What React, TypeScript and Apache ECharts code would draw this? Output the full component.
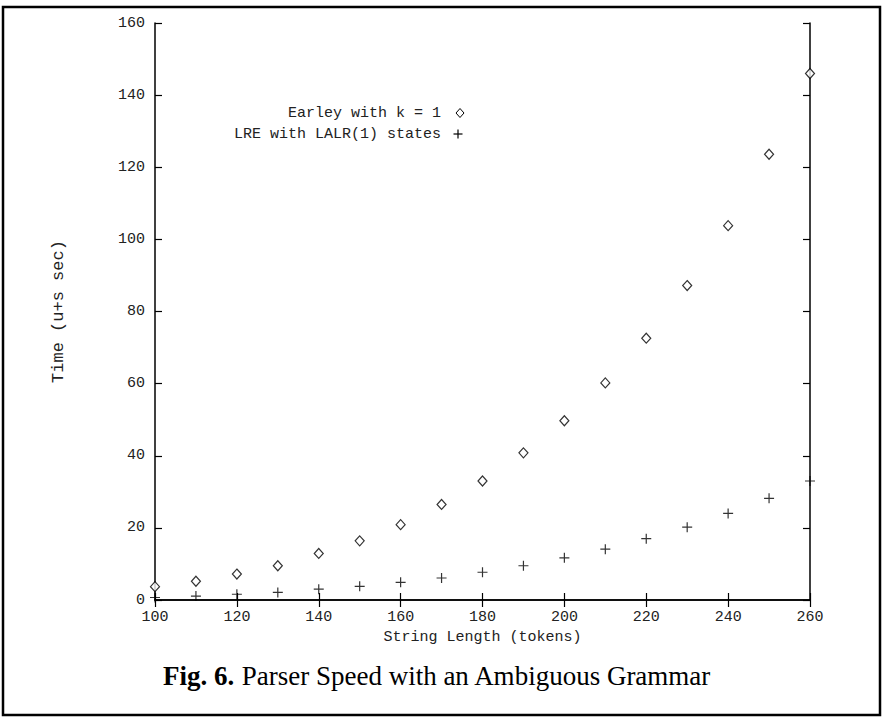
import React, { useEffect, useRef } from "react";
import * as echarts from "echarts";

const xValues = [100, 110, 120, 130, 140, 150, 160, 170, 180, 190, 200, 210, 220, 230, 240, 250, 260];
const earleyValues = [3.7, 5.2, 7.2, 9.5, 12.9, 16.4, 20.9, 26.5, 33.0, 40.8, 49.7, 60.2, 72.6, 87.2, 103.8, 123.6, 146.0];
const lreValues = [0.7, 1.1, 1.6, 2.1, 3.0, 3.8, 4.9, 6.1, 7.7, 9.5, 11.7, 14.1, 17.0, 20.2, 24.0, 28.2, 33.0];
const seriesNames = ["Earley with k = 1", "LRE with LALR(1) states"];
const xTitle = "String Length (tokens)";
const yTitle = "Time (u+s sec)";
const captionBold = "Fig. 6.";
const captionText = "Parser Speed with an Ambiguous Grammar";

const MONO = '"Liberation Mono", "DejaVu Sans Mono", monospace';
const SERIF = '"Liberation Serif", "DejaVu Serif", serif';
const PLUS = "path://M-0.12,-1H0.12V-0.12H1V0.12H0.12V1H-0.12V0.12H-1V-0.12H-0.12Z";

export default function App() {
  const ref = useRef<HTMLDivElement>(null);
  useEffect(() => {
    document.body.style.margin = "0";
    const chart = echarts.init(ref.current!, null, { renderer: "svg" });
    const axisLine = { show: true, lineStyle: { color: "#000", width: 1.5 } };
    const tick = { show: true, inside: true, length: 7, lineStyle: { color: "#000", width: 1.2 } };
    const label = { color: "#222", fontFamily: MONO, fontSize: 15 };
    chart.setOption({
      animation: false,
      backgroundColor: "#fff",
      grid: { left: 155, top: 23, right: 75, bottom: 120, containLabel: false },
      xAxis: [
        {
          type: "value", min: 100, max: 260, interval: 20, position: "bottom",
          axisLine, axisTick: tick, splitLine: { show: false },
          axisLabel: { ...label, margin: 10 },
          name: xTitle, nameLocation: "middle", nameGap: 28,
          nameTextStyle: { ...label },
        },
        {
          type: "value", min: 100, max: 260, interval: 20, position: "top",
          axisLine, axisTick: tick, splitLine: { show: false }, axisLabel: { show: false },
        },
      ],
      yAxis: [
        {
          type: "value", min: 0, max: 160, interval: 20, position: "left",
          axisLine, axisTick: tick, splitLine: { show: false },
          axisLabel: { ...label, margin: 10 },
          name: yTitle, nameLocation: "middle", nameGap: 88, nameRotate: 90,
          nameTextStyle: { ...label, fontSize: 17 },
        },
        {
          type: "value", min: 0, max: 160, interval: 20, position: "right",
          axisLine, axisTick: tick, splitLine: { show: false }, axisLabel: { show: false },
        },
      ],
      series: [
        {
          name: seriesNames[0], type: "scatter", xAxisIndex: 0, yAxisIndex: 0,
          data: xValues.map((x, i) => [x, earleyValues[i]]),
          symbol: "diamond", symbolSize: [9, 10], clip: false,
          itemStyle: { color: "#fff", borderColor: "#000", borderWidth: 1.2 },
        },
        {
          name: seriesNames[1], type: "scatter", xAxisIndex: 0, yAxisIndex: 0,
          data: xValues.map((x, i) => [x, lreValues[i]]),
          symbol: PLUS, symbolSize: 10, clip: false,
          itemStyle: { color: "#000" },
        },
      ],
      graphic: [
        {
          type: "rect", shape: { x: 3, y: 7, width: 877, height: 708 },
          style: { fill: "none", stroke: "#000", lineWidth: 2.5 }, silent: true,
        },
        {
          type: "text", x: 441, y: 113,
          style: { text: seriesNames[0], align: "right", verticalAlign: "middle", font: `15px ${MONO}`, fill: "#222" },
        },
        {
          type: "text", x: 441, y: 134,
          style: { text: seriesNames[1], align: "right", verticalAlign: "middle", font: `15px ${MONO}`, fill: "#222" },
        },
        {
          type: "polygon", shape: { points: [[460, 108.5], [464, 113], [460, 117.5], [456, 113]] },
          style: { fill: "#fff", stroke: "#000", lineWidth: 1 },
        },
        { type: "line", shape: { x1: 453.5, y1: 134, x2: 462.5, y2: 134 }, style: { stroke: "#000", lineWidth: 1.2 } },
        { type: "line", shape: { x1: 458, y1: 129.5, x2: 458, y2: 138.5 }, style: { stroke: "#000", lineWidth: 1.2 } },
        {
          type: "text", x: 437, y: 676,
          style: {
            text: `{b|${captionBold}} ${captionText}`,
            align: "center", verticalAlign: "middle",
            font: `27px ${SERIF}`, fill: "#000",
            rich: { b: { fontFamily: SERIF, fontSize: 27, fontWeight: "bold", fill: "#000" } },
          },
        },
      ],
    });
    return () => chart.dispose();
  }, []);
  return <div ref={ref} style={{ position: "fixed", left: 0, top: 0, width: 885, height: 720 }} />;
}
